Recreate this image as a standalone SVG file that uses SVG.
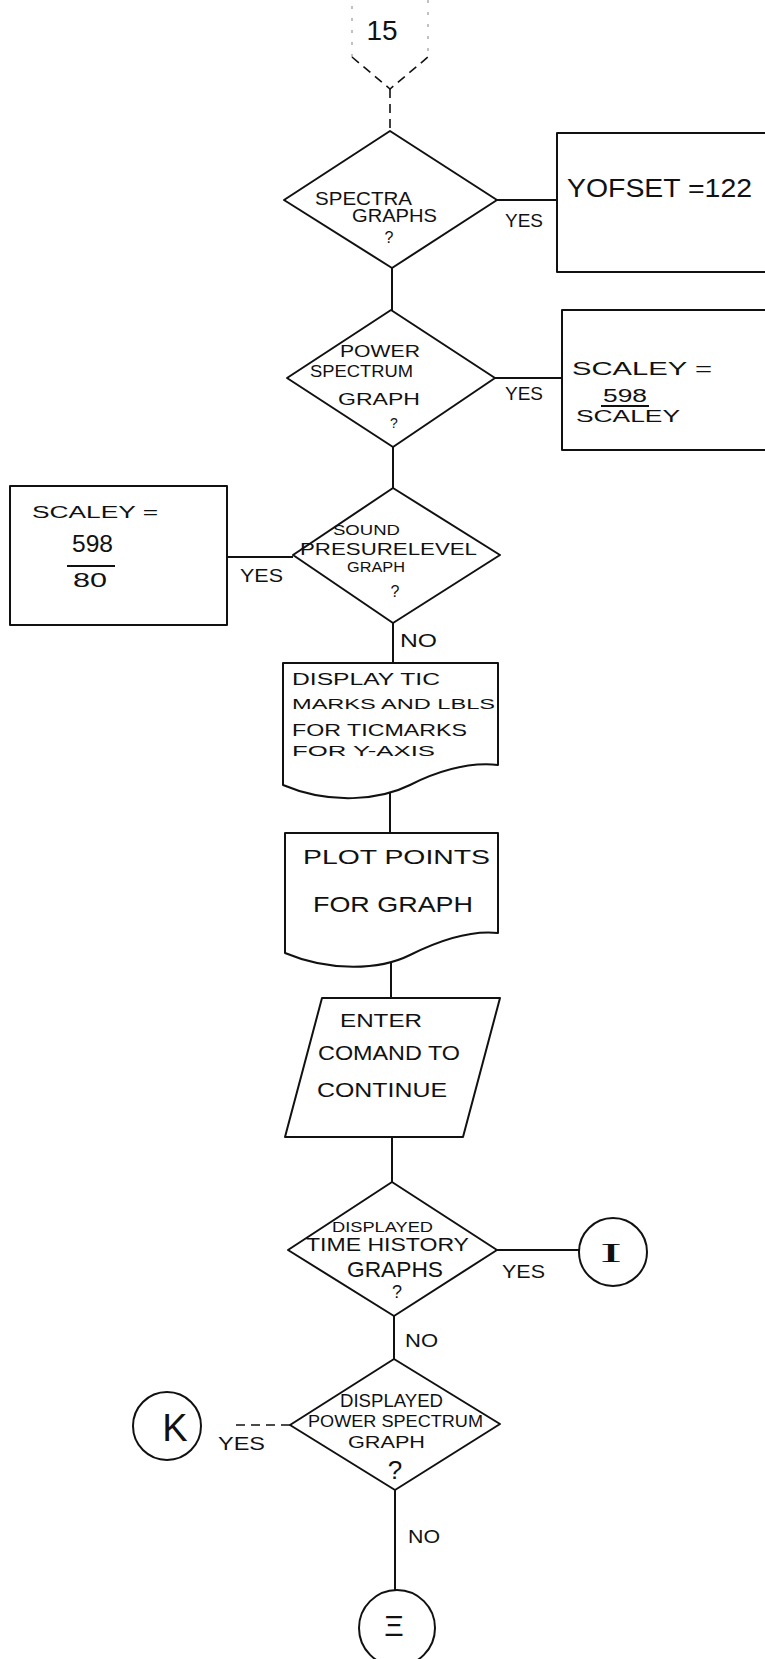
<svg xmlns="http://www.w3.org/2000/svg" width="765" height="1659" viewBox="0 0 765 1659">
<style>
.s{fill:none;stroke:#111;stroke-width:2;stroke-linejoin:round}
.w{fill:#fff;stroke:#111;stroke-width:2;stroke-linejoin:round}
.d{fill:none;stroke:#111;stroke-width:1.6;stroke-dasharray:9 6}
.g{fill:none;stroke:#999;stroke-width:1.2;stroke-dasharray:3 9}
.t{font-family:"Liberation Sans",Arial,sans-serif;fill:#111}
.c{text-anchor:middle}
.f{font-family:"Liberation Serif","Times New Roman",serif;fill:#111;text-anchor:middle}
</style>
<rect width="765" height="1659" fill="#fff"/>
<g id="connectors">
<path class="d" d="M390,89 V131"/>
<path class="s" d="M392,268 V310"/>
<path class="s" d="M393,447 V488"/>
<path class="s" d="M393,623 V663"/>
<path class="s" d="M390,793 V833"/>
<path class="s" d="M391,962 V998"/>
<path class="s" d="M392,1137 V1182"/>
<path class="s" d="M394,1316 V1359"/>
<path class="s" d="M395,1490 V1590"/>
<path class="s" d="M497,200 H557"/>
<path class="s" d="M495,378 H562"/>
<path class="s" d="M227,557 H293"/>
<path class="s" d="M497,1250 H579"/>
<path class="d" d="M290,1425 H235"/>
<text class="t" x="505" y="227" font-size="19" textLength="38" lengthAdjust="spacingAndGlyphs">YES</text>
<text class="t" x="505" y="400" font-size="19" textLength="38" lengthAdjust="spacingAndGlyphs">YES</text>
<text class="t" x="240" y="582" font-size="19" textLength="43" lengthAdjust="spacingAndGlyphs">YES</text>
<text class="t" x="400" y="647" font-size="18" textLength="37" lengthAdjust="spacingAndGlyphs">NO</text>
<text class="t" x="502" y="1278" font-size="19" textLength="43" lengthAdjust="spacingAndGlyphs">YES</text>
<text class="t" x="405" y="1347" font-size="18" textLength="33" lengthAdjust="spacingAndGlyphs">NO</text>
<text class="t" x="218" y="1450" font-size="18" textLength="47" lengthAdjust="spacingAndGlyphs" fill="#444">YES</text>
<text class="t" x="408" y="1543" font-size="18" textLength="32" lengthAdjust="spacingAndGlyphs">NO</text>
</g>
<g id="start">
<path class="g" d="M352,57 V0 M428,0 V57"/>
<path class="d" d="M352,57 L390,89 L428,57"/>
<text class="t c" x="382" y="40" font-size="28">15</text>
</g>
<g id="spectra">
<polygon class="w" points="390,131 497,200 392,268 284,200"/>
<text class="t" x="315" y="205" font-size="18" textLength="97" lengthAdjust="spacingAndGlyphs">SPECTRA</text>
<text class="t" x="352" y="222" font-size="18" textLength="85" lengthAdjust="spacingAndGlyphs">GRAPHS</text>
<text class="t c" x="389" y="243" font-size="16">?</text>
</g>
<g id="yofset">
<rect class="w" x="557" y="133" width="240" height="139"/>
<text class="t" x="567" y="197" font-size="26" textLength="185" lengthAdjust="spacingAndGlyphs">YOFSET =122</text>
</g>
<g id="power">
<polygon class="w" points="391,310 495,378 393,447 287,378"/>
<text class="t" x="340" y="357" font-size="17" textLength="80" lengthAdjust="spacingAndGlyphs">POWER</text>
<text class="t" x="310" y="377" font-size="16" textLength="103" lengthAdjust="spacingAndGlyphs">SPECTRUM</text>
<text class="t" x="338" y="405" font-size="16" textLength="82" lengthAdjust="spacingAndGlyphs">GRAPH</text>
<text class="t c" x="394" y="428" font-size="14" fill="#555">?</text>
</g>
<g id="scaley1">
<rect class="w" x="562" y="310" width="240" height="140"/>
<text class="t" x="572" y="375" font-size="18" textLength="140" lengthAdjust="spacingAndGlyphs">SCALEY =</text>
<text class="t" x="603" y="402" font-size="18" textLength="44" lengthAdjust="spacingAndGlyphs">598</text>
<path class="s" d="M601,406 H649"/>
<text class="t" x="576" y="422" font-size="16" textLength="104" lengthAdjust="spacingAndGlyphs">SCALEY</text>
</g>
<g id="sound">
<polygon class="w" points="393,488 500,555 393,623 293,555"/>
<text class="t" x="333" y="535" font-size="14" textLength="67" lengthAdjust="spacingAndGlyphs">SOUND</text>
<text class="t" x="300" y="555" font-size="17" textLength="177" lengthAdjust="spacingAndGlyphs">PRESURELEVEL</text>
<text class="t" x="347" y="572" font-size="14" textLength="58" lengthAdjust="spacingAndGlyphs">GRAPH</text>
<text class="t c" x="395" y="597" font-size="16">?</text>
</g>
<g id="scaley2">
<rect class="w" x="10" y="486" width="217" height="139"/>
<text class="t" x="32" y="518" font-size="16" textLength="126" lengthAdjust="spacingAndGlyphs">SCALEY =</text>
<text class="t" x="72" y="552" font-size="24" textLength="41" lengthAdjust="spacingAndGlyphs">598</text>
<path class="s" d="M67,566 H115"/>
<text class="t" x="73" y="587" font-size="20" textLength="34" lengthAdjust="spacingAndGlyphs">80</text>
</g>
<g id="display-tic">
<path class="w" d="M283,663 H498 V765 C470,762 440,770 410,785 C380,800 330,805 283,785 Z"/>
<text class="t" x="292" y="685" font-size="16" textLength="148" lengthAdjust="spacingAndGlyphs">DISPLAY TIC</text>
<text class="t" x="292" y="709" font-size="14" textLength="203" lengthAdjust="spacingAndGlyphs">MARKS AND LBLS</text>
<text class="t" x="292" y="736" font-size="17" textLength="175" lengthAdjust="spacingAndGlyphs">FOR TICMARKS</text>
<text class="t" x="292" y="756" font-size="15" textLength="143" lengthAdjust="spacingAndGlyphs">FOR Y-AXIS</text>
</g>
<g id="plot">
<path class="w" d="M285,833 H498 V933 C470,930 440,940 410,955 C380,970 330,972 285,953 Z"/>
<text class="t" x="303" y="864" font-size="20" textLength="187" lengthAdjust="spacingAndGlyphs">PLOT POINTS</text>
<text class="t" x="313" y="912" font-size="22" textLength="160" lengthAdjust="spacingAndGlyphs">FOR GRAPH</text>
</g>
<g id="enter">
<polygon class="w" points="322,998 500,998 463,1137 285,1137"/>
<text class="t" x="340" y="1027" font-size="19" textLength="82" lengthAdjust="spacingAndGlyphs">ENTER</text>
<text class="t" x="318" y="1060" font-size="20" textLength="142" lengthAdjust="spacingAndGlyphs">COMAND TO</text>
<text class="t" x="317" y="1097" font-size="20" textLength="130" lengthAdjust="spacingAndGlyphs">CONTINUE</text>
</g>
<g id="time-history">
<polygon class="w" points="392,1182 497,1250 394,1316 288,1250"/>
<text class="t" x="332" y="1232" font-size="14" textLength="101" lengthAdjust="spacingAndGlyphs">DISPLAYED</text>
<text class="t" x="306" y="1251" font-size="19" textLength="163" lengthAdjust="spacingAndGlyphs">TIME HISTORY</text>
<text class="t" x="347" y="1277" font-size="22" textLength="96" lengthAdjust="spacingAndGlyphs">GRAPHS</text>
<text class="t c" x="397" y="1298" font-size="18">?</text>
</g>
<g id="conn-i">
<circle class="w" cx="613" cy="1252" r="34"/>
<text class="f" x="611" y="1262" font-size="28" textLength="22" lengthAdjust="spacingAndGlyphs">I</text>
</g>
<g id="power-spectrum">
<polygon class="w" points="394,1359 500,1424 395,1490 290,1425"/>
<text class="t" x="340" y="1407" font-size="18" textLength="103" lengthAdjust="spacingAndGlyphs">DISPLAYED</text>
<text class="t" x="308" y="1427" font-size="16" textLength="175" lengthAdjust="spacingAndGlyphs">POWER SPECTRUM</text>
<text class="t" x="348" y="1448" font-size="16" textLength="77" lengthAdjust="spacingAndGlyphs">GRAPH</text>
<text class="t c" x="395" y="1479" font-size="26">?</text>
</g>
<g id="conn-k">
<circle class="w" cx="167" cy="1426" r="34"/>
<text class="t c" x="175" y="1441" font-size="38">K</text>
</g>
<g id="conn-e">
<circle class="w" cx="397" cy="1628" r="38"/>
<text class="t c" x="394" y="1636" font-size="30">Ξ</text>
</g>
</svg>
